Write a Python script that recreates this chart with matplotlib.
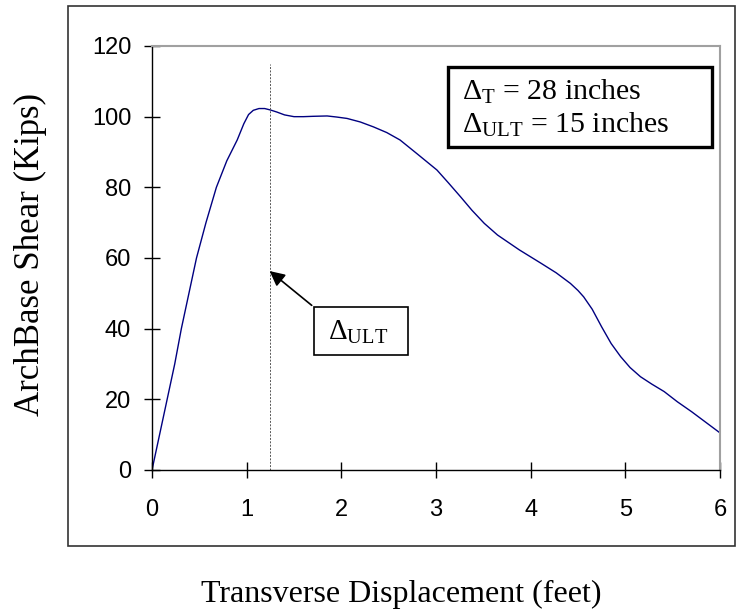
import matplotlib
matplotlib.use("Agg")
import matplotlib.pyplot as plt
from matplotlib.patches import Rectangle

# displacement (feet) vs arch base shear (kips)
disp = [0.0, 0.08, 0.16, 0.24, 0.31, 0.39, 0.47, 0.57, 0.68, 0.79, 0.90, 0.97,
        1.02, 1.07, 1.13, 1.19, 1.25, 1.32, 1.40, 1.50, 1.60, 1.70, 1.85, 1.95,
        2.06, 2.20, 2.34, 2.48, 2.62, 2.80, 3.01, 3.13, 3.26, 3.38, 3.51, 3.65,
        3.88, 4.11, 4.27, 4.42, 4.50, 4.56, 4.65, 4.75, 4.85, 4.95, 5.05, 5.16,
        5.28, 5.41, 5.55, 5.70, 5.85, 6.0]
shear = [0.0, 10.0, 20.0, 30.0, 40.0, 50.0, 60.0, 70.0, 80.0, 87.5, 93.4, 98.0,
         100.6, 101.8, 102.3, 102.3, 101.9, 101.3, 100.5, 100.0, 100.0, 100.1, 100.2, 99.9,
         99.5, 98.5, 97.1, 95.5, 93.4, 89.5, 84.9, 81.3, 77.3, 73.5, 69.8, 66.5,
         62.3, 58.5, 55.8, 52.8, 50.8, 49.0, 45.5, 40.5, 35.8, 32.1, 29.0, 26.4,
         24.3, 22.2, 19.3, 16.5, 13.5, 10.5]
xticks = [0, 1, 2, 3, 4, 5, 6]
yticks = [0, 20, 40, 60, 80, 100, 120]
d_ult = 1.25  # 15 inches

plt.rcParams['mathtext.fontset'] = 'custom'
plt.rcParams['mathtext.rm'] = 'Liberation Serif'
plt.rcParams['mathtext.it'] = 'Liberation Serif:italic'

fig = plt.figure(figsize=(7.36, 6.11), dpi=100)
ax = fig.add_axes([152/736, 1-470/611, 568/736, 424/611])

# outer chart frame
fig.patches.append(Rectangle((68/736, 1-546/611), 667/736, 540/611, transform=fig.transFigure,
                             fill=False, ec='#333333', lw=1.2))

ax.plot(disp, shear, color='#000080', lw=1.0)
ax.plot([d_ult, d_ult], [0, 115], color='#555555', lw=0.7, dashes=(2, 1.5))

ax.set_xlim(0, 6)
ax.set_ylim(0, 120)
ax.set_xticks(xticks)
ax.set_yticks(yticks)
for s in ['left', 'bottom']:
    ax.spines[s].set_color('black')
    ax.spines[s].set_linewidth(1.0)
for s in ['top', 'right']:
    ax.spines[s].set_color('#a0a0a0')
    ax.spines[s].set_linewidth(1.5)
ax.tick_params(axis='both', direction='inout', length=12, width=1, color='black',
               labelsize=17, top=False, right=False)
ax.tick_params(axis='y', pad=9)
ax.tick_params(axis='x', pad=15)
for lab in ax.get_xticklabels() + ax.get_yticklabels():
    lab.set_family('Liberation Sans')

# arrow + label box
ax.annotate('', xy=(1.22, 56.8), xytext=(1.71, 46.1),
            arrowprops=dict(arrowstyle='-|>,head_length=0.9,head_width=0.45', color='black', lw=1.2))
ax.add_patch(Rectangle((1.711, 32.5), 0.993, 13.6, fill=False, ec='black', lw=1.2))
ax.text(1.86, 36.8, r'$\Delta_{\mathrm{ULT}}$', fontsize=21, family='Liberation Serif', va='baseline')

# info box
ax.add_patch(Rectangle((3.127, 91.4), 2.788, 22.7, fill=False, ec='black', lw=2.4, clip_on=False))
ax.text(3.275, 104.7, r'$\Delta_{\mathrm{T}}$ = 28 inches', fontsize=21.5,
        family='Liberation Serif', va='baseline')
ax.text(3.275, 95.4, r'$\Delta_{\mathrm{ULT}}$ = 15 inches', fontsize=21.5,
        family='Liberation Serif', va='baseline')

fig.text(401/736, 1-594/611, 'Transverse Displacement (feet)', fontsize=23,
         family='Liberation Serif', ha='center', va='center')
fig.text(30/736, 1-255/611, 'ArchBase Shear (Kips)', fontsize=25, rotation=90,
         family='Liberation Serif', ha='center', va='center')

fig.savefig('out.png', dpi=100)
